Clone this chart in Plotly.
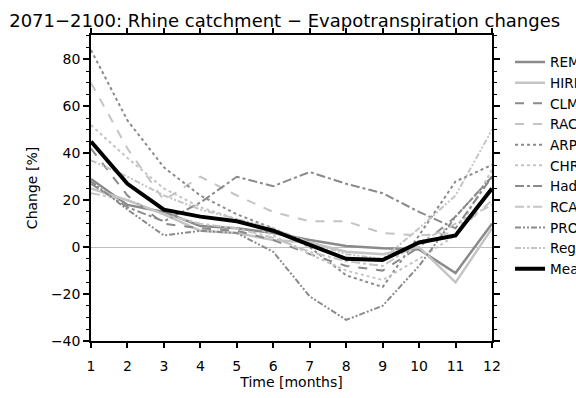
import plotly.graph_objects as go

months = list(range(1, 13))

# Legend labels exactly as visible in the reference (cut by the image edge)
series_names = ["REM", "HIRH", "CLM", "RAC", "ARP", "CHR",
                "Had", "RCA", "PRO", "Reg", "Mea"]

remo   = [29, 18, 15, 9, 8, 6, 3, 0.5, -0.5, -1, -11, 10]
hirham = [25, 20, 14, 7, 6, 3, 2, -2, -3, 0, -15, 8]
clm    = [42, 22, 10, 8, 7, 3, -3, -8, -10, 0, 13, 30]
racmo  = [70, 42, 20, 30, 22, 15, 11, 11, 6, 5, 6, 20]
arpege = [84, 54, 34, 22, 14, 8, 0, -12, -17, 5, 28, 35]
chrm   = [52, 38, 25, 17, 12, 5, -3, -10, -14, -5, 5, 33]
hadrm  = [27, 17, 11, 19, 30, 26, 32, 27, 23, 15, 8, 30]
rcao   = [23, 20, 14, 10, 8, 4, -2, -6, -8, 2, 10, 18]
promes = [28, 16, 5, 7, 6, -2, -21, -31, -25, -8, 13, 30]
regcm  = [37, 30, 22, 16, 12, 8, 2, -3, -5, 8, 22, 50]
mean   = [45, 27, 16, 13, 11, 7, 1, -5, -5.5, 2, 5, 25]

values = [remo, hirham, clm, racmo, arpege, chrm, hadrm, rcao, promes, regcm, mean]

y_ticks = [-40, -20, 0, 20, 40, 60, 80]
y_ticktext = ["\u221240", "\u221220", "0", "20", "40", "60", "80"]

dark = "#8a8a8a"
light = "#c4c4c4"
styles = [
    (dark, "solid", 2.5),
    (light, "solid", 2.5),
    (dark, "dash", 2),
    (light, "dash", 2),
    (dark, "dot", 2),
    (light, "dot", 2),
    (dark, "dashdot", 2),
    (light, "dashdot", 2),
    (dark, "6px,2px,2px,2px,2px,2px", 2),
    (light, "6px,2px,2px,2px,2px,2px", 2),
    ("black", "solid", 4),
]

fig = go.Figure()
for name, vals, (col, dash, w) in zip(series_names, values, styles):
    fig.add_trace(go.Scatter(x=months, y=vals, mode="lines", name=name,
                             line=dict(color=col, dash=dash, width=w)))

font = "DejaVu Sans"
fig.update_layout(
    width=576, height=398,
    paper_bgcolor="white", plot_bgcolor="white",
    margin=dict(l=91, r=84, t=35, b=57, autoexpand=False),
    font=dict(family=font, size=14, color="black"),
    title=dict(text="2071\u22122100: Rhine catchment \u2212 Evapotranspiration changes",
               x=0.016, xanchor="left", y=0.947, yanchor="middle",
               font=dict(size=18, family=font)),
    showlegend=True,
    legend=dict(x=1.045, xanchor="left", y=0.962, yanchor="top",
                bgcolor="rgba(0,0,0,0)", borderwidth=0,
                font=dict(size=13.6, family=font)),
)
fig.update_xaxes(range=[1, 12], tickmode="linear", tick0=1, dtick=1,
                 showline=True, linecolor="black", linewidth=1.5, mirror="ticks",
                 ticks="outside", ticklen=5, tickcolor="black", tickwidth=1.5,
                 ticklabelstandoff=6,
                 showgrid=False, zeroline=False,
                 title=dict(text="Time [months]", standoff=5, font=dict(size=14)),
                 tickfont=dict(size=14))
fig.update_yaxes(range=[-40, 90.4], tickmode="array", tickvals=y_ticks,
                 ticktext=y_ticktext,
                 showline=True, linecolor="black", linewidth=1.5, mirror="ticks",
                 ticks="outside", ticklen=6, tickcolor="black", tickwidth=1.5,
                 minor=dict(tickvals=[v for v in range(-40, 91, 5) if v % 20 != 0],
                            ticks="outside", ticklen=3, tickcolor="black", tickwidth=1),
                 showgrid=False, zeroline=True, zerolinecolor="#bdbdbd", zerolinewidth=1,
                 title=dict(text="Change [%]", standoff=10, font=dict(size=14)),
                 tickfont=dict(size=14))

fig.write_html("out.html")
